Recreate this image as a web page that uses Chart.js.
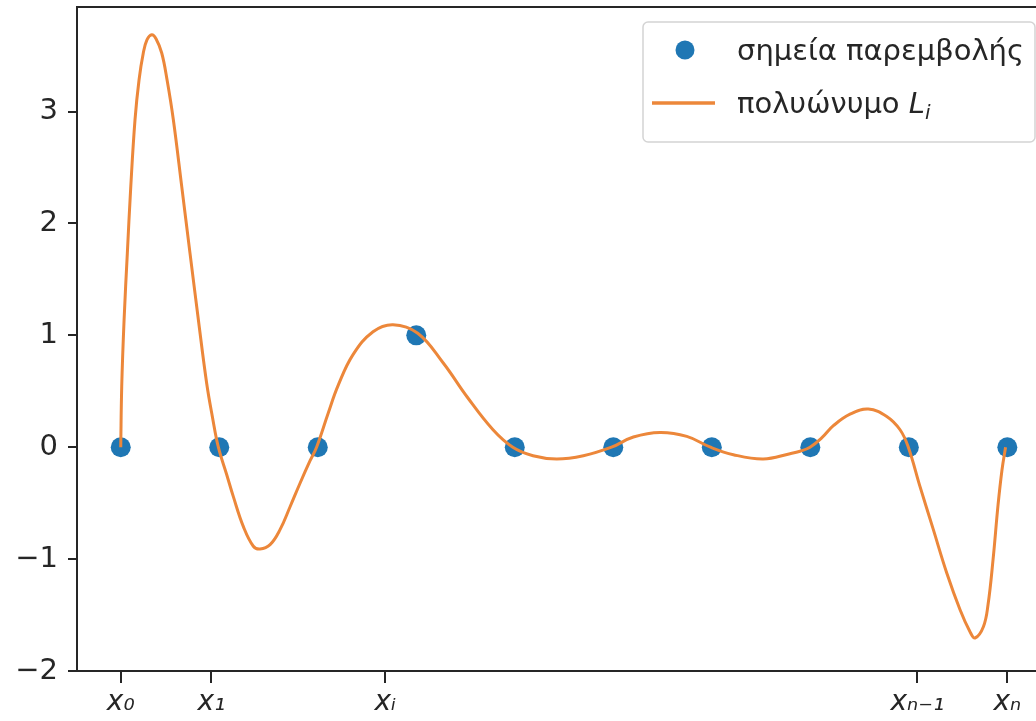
<!DOCTYPE html>
<html>
<head>
<meta charset="utf-8">
<script src="https://cdn.jsdelivr.net/npm/chart.js@4.4.1/dist/chart.umd.min.js"></script>
<style>
  html, body { margin: 0; padding: 0; background: #fff; }
  #wrap { width: 1036px; height: 721px; }
</style>
</head>
<body>
<div id="wrap"><canvas id="myChart" width="1036" height="721"></canvas></div>
<script>
// σημεία παρεμβολής (κόμβοι)
var nodeX = [0, 1, 2, 3, 4, 5, 6, 7, 8, 9];
var nodeY = [0, 0, 0, 1, 0, 0, 0, 0, 0, 0];

// πολυώνυμο L_i, τιμές διαβασμένες από την εικόνα
var curveX = [0, 0.010, 0.034, 0.067, 0.102, 0.145, 0.186, 0.229, 0.267, 0.315,
  0.358, 0.416, 0.470, 0.534, 0.619, 0.703, 0.788, 0.873, 0.932, 0.991,
  1.076, 1.143, 1.245, 1.346, 1.414, 1.516, 1.617, 1.719, 1.820, 1.922,
  1.988, 2.104, 2.206, 2.358, 2.561, 2.764, 3.015, 3.272, 3.515, 3.779,
  3.980, 4.185, 4.426, 4.696, 4.982, 5.204, 5.475, 5.746, 5.987, 6.219,
  6.523, 6.794, 6.896, 6.997, 7.118, 7.234, 7.403, 7.589, 7.776, 7.911, 7.995,
  8.113, 8.249, 8.385, 8.520, 8.621, 8.672, 8.757, 8.804, 8.855, 8.906, 8.946, 8.982];
var curveY = [0, 0.543, 1.139, 1.735, 2.331, 2.927, 3.284, 3.523, 3.642, 3.686,
  3.651, 3.523, 3.284, 2.927, 2.331, 1.735, 1.139, 0.567, 0.264, 0,
  -0.246, -0.442, -0.710, -0.885, -0.910, -0.871, -0.737, -0.532, -0.322, -0.121,
  0, 0.299, 0.550, 0.827, 1.032, 1.095, 1.019, 0.755, 0.451, 0.156,
  0, -0.076, -0.105, -0.076, 0, 0.091, 0.132, 0.097, 0, -0.067,
  -0.105, -0.058, -0.036, 0, 0.085, 0.192, 0.295, 0.341, 0.275, 0.156, 0,
  -0.350, -0.737, -1.124, -1.452, -1.649, -1.705, -1.604, -1.408, -1.005, -0.514, -0.201, 0];

var xTickValues = [0, 0.92, 2.686, 8.087, 9];
var xTickLabels = ["x₀", "x₁", "xᵢ", "xₙ₋₁", "xₙ"];
var yTickValues = [-2, -1, 0, 1, 2, 3];
var xRange = [-0.444, 9.291];
var yRange = [-2, 3.934];

var spineColor = "#262626";

// κείμενο τύπου "πολυώνυμο $L_i$" με πλάγιο γράμμα και δείκτη
function drawMathText(ctx, text, x, y, size) {
  var parts = text.split("$");
  for (var k = 0; k < parts.length; k++) {
    if (!parts[k]) continue;
    if (k % 2 === 0) {
      ctx.font = size + "px 'DejaVu Sans'";
      ctx.fillText(parts[k], x, y);
      x += ctx.measureText(parts[k]).width;
    } else {
      var bits = parts[k].split("_");
      ctx.font = "italic " + size + "px 'DejaVu Sans'";
      ctx.fillText(bits[0], x, y);
      x += ctx.measureText(bits[0]).width;
      if (bits[1]) {
        ctx.font = "italic " + Math.round(size * 0.7) + "px 'DejaVu Sans'";
        ctx.fillText(bits[1], x, y + size * 0.2);
        x += ctx.measureText(bits[1]).width;
      }
    }
  }
}

var legendBox = {
  id: "legendBox",
  afterDatasetsDraw: function (chart) {
    var ctx = chart.ctx;
    var area = chart.chartArea;
    var w = 392, h = 120;
    var left = area.right - w - 1;
    var top = area.top + 15;
    ctx.save();
    ctx.beginPath();
    ctx.roundRect(left, top, w, h, 5);
    ctx.fillStyle = "rgba(255,255,255,0.8)";
    ctx.fill();
    ctx.strokeStyle = "#d4d4d4";
    ctx.lineWidth = 1.5;
    ctx.stroke();

    var pts = chart.data.datasets[0];
    var line = chart.data.datasets[1];
    ctx.fillStyle = pts.backgroundColor;
    ctx.beginPath();
    ctx.arc(left + 42, top + 28, 9.5, 0, Math.PI * 2);
    ctx.fill();

    ctx.strokeStyle = line.borderColor;
    ctx.lineWidth = 3.5;
    ctx.beginPath();
    ctx.moveTo(left + 9, top + 81);
    ctx.lineTo(left + 72, top + 81);
    ctx.stroke();

    ctx.fillStyle = spineColor;
    ctx.textBaseline = "alphabetic";
    ctx.textAlign = "left";
    drawMathText(ctx, pts.label, left + 94, top + 38, 29);
    drawMathText(ctx, line.label, left + 94, top + 91, 29);
    ctx.restore();
  }
};

var ctx = document.getElementById("myChart").getContext("2d");
var myChart = new Chart(ctx, {
  type: "scatter",
  data: {
    datasets: [
      {
        label: "σημεία παρεμβολής",
        data: nodeX.map(function (x, i) { return { x: x, y: nodeY[i] }; }),
        backgroundColor: "#1f77b4",
        borderWidth: 0,
        pointRadius: 10,
        order: 2
      },
      {
        type: "line",
        label: "πολυώνυμο $L_i$",
        data: curveX.map(function (x, i) { return { x: x, y: curveY[i] }; }),
        borderColor: "#ec873a",
        borderWidth: 3,
        pointRadius: 0,
        fill: false,
        tension: 0.4,
        order: 1
      }
    ]
  },
  options: {
    responsive: false,
    animation: false,
    devicePixelRatio: 1,
    layout: { padding: 0, autoPadding: false },
    plugins: {
      legend: { display: false },
      tooltip: { enabled: false }
    },
    scales: {
      x: {
        type: "linear",
        position: "bottom",
        min: xRange[0],
        max: xRange[1],
        afterBuildTicks: function (scale) {
          scale.ticks = xTickValues.map(function (v) { return { value: v }; });
        },
        afterFit: function (scale) {
          scale.height = 50;
          scale.paddingLeft = 0;
          scale.paddingRight = 0;
        },
        ticks: {
          autoSkip: false,
          maxRotation: 0,
          padding: 3,
          color: spineColor,
          font: { family: "DejaVu Sans", size: 28, style: "italic" },
          callback: function (value) {
            var i = xTickValues.indexOf(value);
            return i >= 0 ? xTickLabels[i] : "";
          }
        },
        grid: { drawOnChartArea: false, color: spineColor, lineWidth: 2, tickLength: 12 },
        border: { display: true, color: spineColor, width: 2 }
      },
      x2: {
        type: "linear",
        position: "top",
        min: xRange[0],
        max: xRange[1],
        afterFit: function (scale) {
          scale.height = 7;
          scale.paddingLeft = 0;
          scale.paddingRight = 0;
        },
        ticks: { display: false },
        grid: { display: false },
        border: { display: true, color: spineColor, width: 2 }
      },
      y: {
        type: "linear",
        position: "left",
        min: yRange[0],
        max: yRange[1],
        afterBuildTicks: function (scale) {
          scale.ticks = yTickValues.map(function (v) { return { value: v }; });
        },
        afterFit: function (scale) {
          scale.width = 77;
          scale.paddingTop = 0;
          scale.paddingBottom = 0;
        },
        ticks: {
          padding: 10,
          color: spineColor,
          font: { family: "DejaVu Sans", size: 29 },
          callback: function (value) {
            return String(value).replace("-", "\u2212");
          }
        },
        grid: { drawOnChartArea: false, color: spineColor, lineWidth: 2, tickLength: 9 },
        border: { display: true, color: spineColor, width: 2 }
      }
    }
  },
  plugins: [legendBox]
});
</script>
</body>
</html>
